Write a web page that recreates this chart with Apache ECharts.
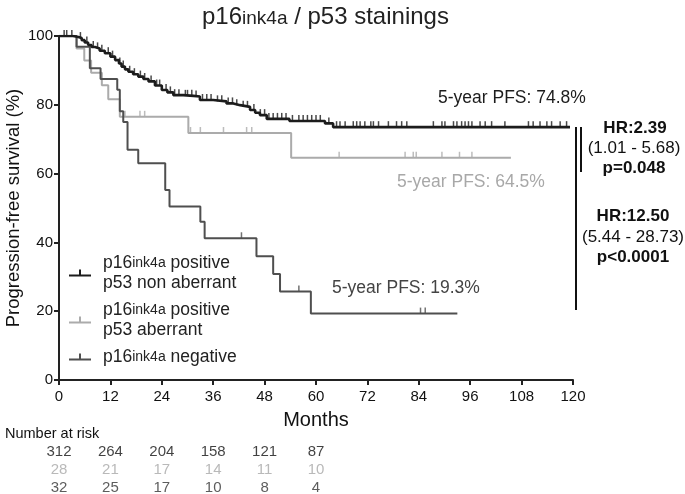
<!DOCTYPE html>
<html>
<head>
<meta charset="utf-8">
<script src="https://cdn.jsdelivr.net/npm/echarts@6/dist/echarts.min.js"></script>
<style>html,body{margin:0;padding:0;background:#fff}#c{width:685px;height:494px}</style>
</head>
<body>
<div id="c"></div>
<script>
// ---- data ----
const seriesNames = ['p16ink4a positive p53 non aberrant', 'p16ink4a positive p53 aberrant', 'p16ink4a negative'];
const nonAberrantTimes = [0,3.3,4.5,5.3,6,6.8,7.6,8.4,9.5,10.7,12,13.1,14,14.6,15.4,16.2,17.3,18.5,19.7,20.9,22.4,24,25.3,26.7,29,31.4,32.9,36,39.1,40.7,42.3,44.6,45.8,46.9,48.5,53.8,62.1,64];
const nonAberrantSurv  = [100,99.7,99.4,98.8,98.1,97.4,96.8,96.4,95.7,95.0,94.0,93.0,92.0,91.1,90.3,89.6,88.9,88.2,87.5,86.8,85.6,84.3,83.6,82.8,82.6,82.4,81.4,81.0,80.4,79.9,79.4,78.5,77.7,77.0,75.9,75.3,74.6,73.5];
const nonAberrantEnd = 119.3;
const nonAberrantCensor = [1.2,1.8,3,5,6.5,8,9,10,11.5,12.5,14.2,15,16.5,17.6,19,20,21.5,22.8,23.5,25,26,27,28,29.5,30,31,32,33.5,34.5,35.5,37,38,39.5,40.5,41.5,43,44,45.5,47,48,49,50,51,52,53,54.5,56,57,58,59,60,61,63,64.8,65.6,66.8,68.7,69.5,70.3,71.4,72.8,73.4,74.6,76.9,78.8,80,81.2,87.4,89.4,90.1,92.1,92.9,94,94.8,95.6,96.4,98.3,99.5,101,104.1,109.6,110.7,112.3,113.9,115,117,118.5];

const aberrantTimes = [0,4.1,5.9,7.5,10,11.5,14.2,30.2,54.2];
const aberrantSurv  = [100,96.4,92.9,89.3,85.7,81.6,76.5,71.8,64.6];
const aberrantEnd = 105.5;
const aberrantCensor = [4.1,15.4,18.9,20,30.7,33,38.4,43.8,45,65.4,80.8,82.7,83.4,89.4,93.5,96.4];

const negativeTimes = [0,4.1,7.2,9.7,13.6,14.2,15,16,18.5,24.8,25.8,33,34,46.1,50,51.6,58.8];
const negativeSurv  = [100,96.9,90.6,87.5,84.4,78.1,75,66.9,63,55.2,50.4,46,41.2,36,30.8,25.7,19.3];
const negativeEnd = 93;
const negativeCensor = [42.6,56,84.4,85.5];

const riskMonths = [0,12,24,36,48,60];
const riskNonAberrant = [312,264,204,158,121,87];
const riskAberrant = [28,21,17,14,11,10];
const riskNegative = [32,25,17,10,8,4];

const pfsLabels = ['5-year PFS: 74.8%','5-year PFS: 64.5%','5-year PFS: 19.3%'];
const hr1 = ['HR:2.39','(1.01 - 5.68)','p=0.048'];
const hr2 = ['HR:12.50','(5.44 - 28.73)','p<0.0001'];

// ---- styles ----
const colors = ['#1c1c1c','#ababab','#4f4f4f'];
const fontFam = '"Liberation Sans", Arial, sans-serif';

function stepData(times, surv, end){
  const d = times.map((t,i)=>[t, surv[i]]);
  d.push([end, surv[surv.length-1]]);
  return d;
}
function survAt(t, times, surv){
  let v = surv[0];
  for (let i=0;i<times.length;i++){ if (times[i] <= t) v = surv[i]; }
  return v;
}
function censorData(c, times, surv){ return c.map(t=>[t, survAt(t, times, surv)]); }

const curves = [
  [nonAberrantTimes, nonAberrantSurv, nonAberrantEnd, nonAberrantCensor],
  [aberrantTimes, aberrantSurv, aberrantEnd, aberrantCensor],
  [negativeTimes, negativeSurv, negativeEnd, negativeCensor]
];

const series = [];
[1,2,0].forEach(k=>{
  const [t,s,e,c] = curves[k];
  series.push({
    name: seriesNames[k], type:'line', step:'end', xAxisIndex:0, yAxisIndex:0,
    data: stepData(t,s,e), showSymbol:false, symbol:'none',
    lineStyle:{color:colors[k], width: k===0?2.6:2}, itemStyle:{color:colors[k]},
    z: k===0?5:(k===2?4:3), animation:false
  });
  series.push({
    name: seriesNames[k]+' censored', type:'scatter', xAxisIndex:0, yAxisIndex:0,
    data: censorData(c,t,s), symbol:'rect', symbolSize:[1.5,6], symbolOffset:[0,-3],
    itemStyle:{color:colors[k]}, z: k===0?5:(k===2?4:3), animation:false, silent:true
  });
});

const riskRows = [riskNonAberrant, riskAberrant, riskNegative];
const riskCats = ['r0','r1','r2'];
riskRows.forEach((row,k)=>{
  series.push({
    type:'scatter', xAxisIndex:1, yAxisIndex:1, symbolSize:0,
    data: riskMonths.map((m,i)=>[m, riskCats[k], row[i]]),
    label:{show:true, position:'inside', formatter:p=>String(p.data[2]), color: k===1?'#a8a8a8':(k===0?'#111':'#333'), fontSize:15, fontFamily:fontFam},
    animation:false, silent:true
  });
});

const legendRich = {
  a:{fontSize:17.5, fontFamily:fontFam, color:'#222', lineHeight:20},
  b:{fontSize:14, fontFamily:fontFam, color:'#222', lineHeight:20}
};
function legendFmt(name){
  if (name===seriesNames[0]) return '{a|p16}{b|ink4a}{a| positive}\n{a|p53 non aberrant}';
  if (name===seriesNames[1]) return '{a|p16}{b|ink4a}{a| positive}\n{a|p53 aberrant}';
  return '{a|p16}{b|ink4a}{a| negative}';
}
const legendIcon = 'path://M0,5h22v2H0z M10,0h2v6h-2z';

function txt(left, top, text, color, size, bold){
  return {type:'text', left:left, top:top, style:{text:text, fill:color, font:(bold?'bold ':'')+size+'px '+fontFam}};
}
function ctxt(x, y, text, size, bold){
  return {type:'text', x:x, y:y, style:{text:text, fill:'#111', font:(bold?'bold ':'')+size+'px '+fontFam, textAlign:'center', textVerticalAlign:'middle'}};
}

const graphics = [
  txt(438, 89, pfsLabels[0], '#1c1c1c', 17.5),
  txt(397, 173, pfsLabels[1], '#a8a8a8', 17.5),
  txt(332, 279, pfsLabels[2], '#444', 17.5),
  {type:'line', shape:{x1:576, y1:127, x2:576, y2:310}, style:{stroke:'#111', lineWidth:2}},
  {type:'line', shape:{x1:581, y1:127, x2:581, y2:172}, style:{stroke:'#111', lineWidth:2}},
  ctxt(635, 128, hr1[0], 17, true),
  ctxt(634, 148, hr1[1], 17, false),
  ctxt(634, 168, hr1[2], 17, true),
  ctxt(633, 216, hr2[0], 17, true),
  ctxt(633, 237, hr2[1], 17, false),
  ctxt(633, 257, hr2[2], 17, true),
  txt(5, 426, 'Number at risk', '#111', 14.5)
];

const chart = echarts.init(document.getElementById('c'), null, {renderer:'canvas'});
chart.setOption({
  animation:false,
  backgroundColor:'#fff',
  title:{
    text:'{a|p16}{b|ink4a}{a| / p53 stainings}', left:197, top:0,
    textStyle:{rich:{a:{fontSize:24, fontWeight:'normal', fontFamily:fontFam, color:'#222'}, b:{fontSize:19, fontWeight:'normal', fontFamily:fontFam, color:'#222', padding:[4,0,0,0]}}}
  },
  legend:{
    data: seriesNames, orient:'vertical', left:64, top:249, itemGap:9,
    itemWidth:22, itemHeight:7, icon:legendIcon, selectedMode:false,
    formatter: legendFmt, textStyle:{rich:legendRich, padding:[0,0,0,7]}
  },
  grid:[
    {left:59, right:112, top:36, bottom:114, containLabel:false, outerBoundsMode:'none'},
    {left:59, right:112, top:443, height:54, containLabel:false, outerBoundsMode:'none'}
  ],
  xAxis:[
    {type:'value', gridIndex:0, min:0, max:120, interval:12,
     name:'Months', nameLocation:'middle', nameGap:30, nameTextStyle:{fontSize:20, fontFamily:fontFam, color:'#111'},
     axisLine:{lineStyle:{color:'#222', width:2}}, axisTick:{show:true, length:5, lineStyle:{color:'#222', width:2}},
     axisLabel:{fontSize:15, fontFamily:fontFam, color:'#111', margin:9}, splitLine:{show:false}},
    {type:'value', gridIndex:1, min:0, max:120, show:false}
  ],
  yAxis:[
    {type:'value', gridIndex:0, min:0, max:100, interval:20,
     name:'Progression-free survival (%)', nameLocation:'middle', nameGap:36, nameRotate:90, nameMoveOverlap:false,
     nameTextStyle:{fontSize:18.5, fontFamily:fontFam, color:'#111'},
     axisLine:{show:true, lineStyle:{color:'#222', width:2}}, axisTick:{show:true, length:5, lineStyle:{color:'#222', width:2}},
     axisLabel:{fontSize:15, fontFamily:fontFam, color:'#111', margin:6}, splitLine:{show:false}},
    {type:'category', gridIndex:1, data:riskCats, inverse:true, show:false}
  ],
  series: series,
  graphic: graphics
});
</script>
</body>
</html>
